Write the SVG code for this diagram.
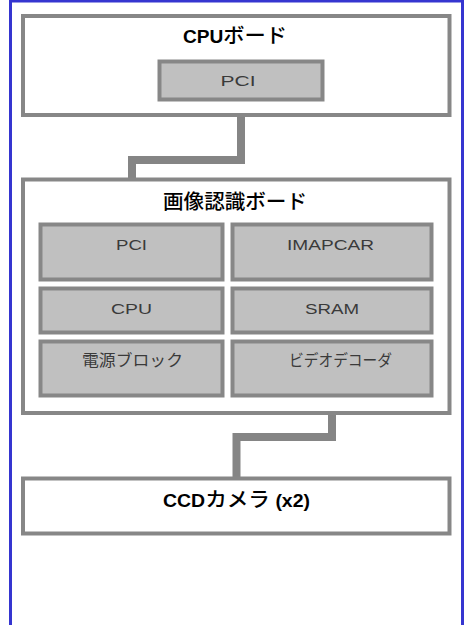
<svg xmlns="http://www.w3.org/2000/svg" width="464" height="625" viewBox="0 0 464 625">
<style>
.frame{fill:#ffffff;stroke:#3535d0;stroke-width:3}
.board{fill:#ffffff;stroke:#878787;stroke-width:4}
.part{fill:#c0c0c0;stroke:#878787;stroke-width:4}
.conn{fill:none;stroke:#858585;stroke-width:8;stroke-linejoin:miter}
.title{font-family:"Liberation Sans","Noto Sans CJK JP",sans-serif;font-weight:bold;font-size:18px;fill:#000;text-anchor:middle}
.title .jp{font-family:"Noto Sans CJK JP",sans-serif;font-size:20px;font-weight:500}
.lbl{font-family:"Liberation Sans","Noto Sans CJK JP",sans-serif;font-size:14px;fill:#3a3a3a;text-anchor:middle}
.lbl.jp{font-family:"Noto Sans CJK JP",sans-serif;font-size:16px}
</style>
<rect width="464" height="625" fill="#ffffff"/>
<rect class="frame" x="10.5" y="1" width="452" height="700"/>

<g id="connectors">
<polyline class="conn" points="241,99.5 241,160 132,160 132,224.5"/>
<polyline class="conn" points="332,395.5 332,437 236.5,437 236.5,478.5"/>
</g>

<g id="cpu-board">
<rect class="board" x="23" y="16" width="426.5" height="99"/>
<text class="title" x="235" y="43" textLength="104" lengthAdjust="spacingAndGlyphs">CPU<tspan class="jp">ボード</tspan></text>
</g>
<g id="cpu-pci">
<rect class="part" x="159.5" y="61.5" width="163" height="38"/>
<text class="lbl" x="238" y="86" textLength="35" lengthAdjust="spacingAndGlyphs">PCI</text>
</g>

<g id="image-board">
<rect class="board" x="23" y="179.5" width="426.5" height="233.5"/>
<text class="title" x="235" y="209" textLength="144" lengthAdjust="spacingAndGlyphs"><tspan class="jp">画像認識ボード</tspan></text>
</g>
<g id="pci">
<rect class="part" x="40.5" y="224.5" width="182" height="55"/>
<text class="lbl" x="131.5" y="250" textLength="31" lengthAdjust="spacingAndGlyphs">PCI</text>
</g>
<g id="imapcar">
<rect class="part" x="232.5" y="224.5" width="199" height="55"/>
<text class="lbl" x="330.5" y="250" textLength="87" lengthAdjust="spacingAndGlyphs">IMAPCAR</text>
</g>
<g id="cpu">
<rect class="part" x="40.5" y="288.5" width="182" height="44"/>
<text class="lbl" x="131.5" y="314" textLength="41" lengthAdjust="spacingAndGlyphs">CPU</text>
</g>
<g id="sram">
<rect class="part" x="232.5" y="288.5" width="199" height="44"/>
<text class="lbl" x="332" y="314" textLength="54" lengthAdjust="spacingAndGlyphs">SRAM</text>
</g>
<g id="power">
<rect class="part" x="40.5" y="341.5" width="182" height="54"/>
<text class="lbl jp" x="132.5" y="366" textLength="101" lengthAdjust="spacingAndGlyphs">電源ブロック</text>
</g>
<g id="video-decoder">
<rect class="part" x="232.5" y="341.5" width="199" height="54"/>
<text class="lbl jp" x="340.5" y="366" textLength="103" lengthAdjust="spacingAndGlyphs">ビデオデコーダ</text>
</g>

<g id="ccd-camera">
<rect class="board" x="23" y="478.5" width="426.5" height="55"/>
<text class="title" x="236.5" y="507" textLength="147" lengthAdjust="spacingAndGlyphs">CCD<tspan class="jp">カメラ</tspan> (x2)</text>
</g>
</svg>
